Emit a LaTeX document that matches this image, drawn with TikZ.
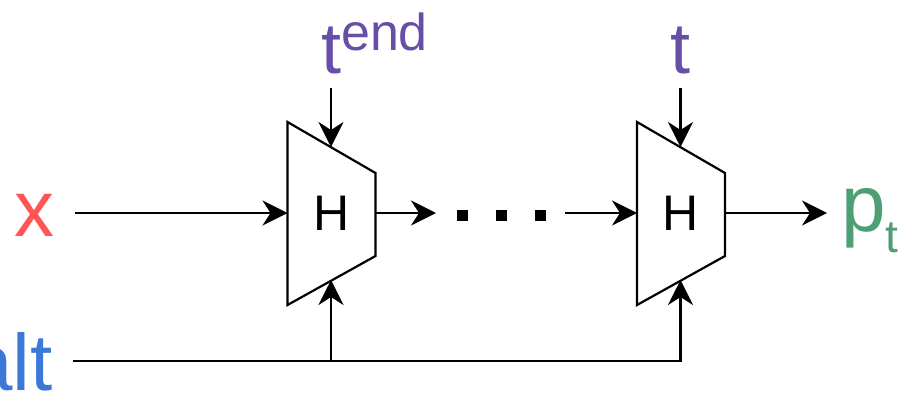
\documentclass[tikz,border=0pt]{standalone}
\usepackage{fontspec}
\setmainfont{Liberation Sans}
\usetikzlibrary{arrows.meta}
\definecolor{xred}{HTML}{FF5555}
\definecolor{altblue}{HTML}{3C78D8}
\definecolor{tpurple}{HTML}{674EA7}
\definecolor{pgreen}{HTML}{4E9F73}

\begin{document}
\begin{tikzpicture}[
    x=1pt, y=-1pt,
    line width=2.2pt,
    conn/.style={-{Stealth[length=25pt, width=25pt, inset=8pt]}},
    hblock/.style={draw=black, fill=white, line join=miter},
    lbl/.style={inner sep=0pt, font=\fontsize{80}{96}\selectfont},
    tlbl/.style={inner sep=0pt, text=tpurple, font=\fontsize{72}{86}\selectfont},
    dotsq/.style={fill=black, minimum size=11pt, inner sep=0pt}
]
    \useasboundingbox (0,0) rectangle (904,394);
    \clip (0,0) rectangle (904,394);

    % Blocks
    \foreach \n/\x in {h1/287.5, h2/637} {
        \draw[hblock] (\x,122) -- (\x+88,173) -- (\x+88,256) -- (\x,305) -- cycle;
        \node[font=\fontsize{50}{60}\selectfont] (\n) at (\x+44,213) {H};
        \coordinate (\n-in) at (\x,213);
        \coordinate (\n-out) at (\x+88,213);
        \coordinate (\n-top) at (\x+43.5,147);
        \coordinate (\n-bot) at (\x+43.5,280);
    }

    % Labels
    \node[lbl, text=xred, anchor=base] (xlbl) at (34,236) {x};
    \node[lbl, text=altblue, anchor=base east] (altlbl) at (54,390) {alt};
    \node[tlbl, anchor=base west] (tend) at (320,73)
        {t\raisebox{23pt}{\fontsize{52}{60}\selectfont end}};
    \node[tlbl, anchor=base] (tlbl) at (680,73) {t};
    \node[lbl, text=pgreen, anchor=base west] (ptlbl) at (840,231)
        {p\raisebox{-21pt}{\fontsize{46}{56}\selectfont t}};

    % Dots
    \foreach \i/\x in {1/462.5, 2/501.5, 3/540.5}
        \node[dotsq] (dot\i) at (\x,215.5) {};

    % Free ends
    \coordinate (xstart) at (75,213);
    \coordinate (altstart) at (73,361);
    \coordinate (tendstart) at (331,88);
    \coordinate (tstart) at (680.5,88);
    \coordinate (dotsin) at (436,213);
    \coordinate (dotsout) at (565,213);
    \coordinate (ptin) at (827,213);
    \coordinate (split) at (h1-bot |- altstart);

    % Edges
    \draw[conn] (xstart) -- (h1-in);
    \draw[conn] (h1-out) -- (dotsin);
    \draw[conn] (dotsout) -- (h2-in);
    \draw[conn] (h2-out) -- (ptin);
    \draw[conn] (tendstart) -- (h1-top);
    \draw[conn] (tstart) -- (h2-top);
    \draw[conn] (altstart) -| (h2-bot);
    \draw[conn] (split) -- (h1-bot);
\end{tikzpicture}
\end{document}
